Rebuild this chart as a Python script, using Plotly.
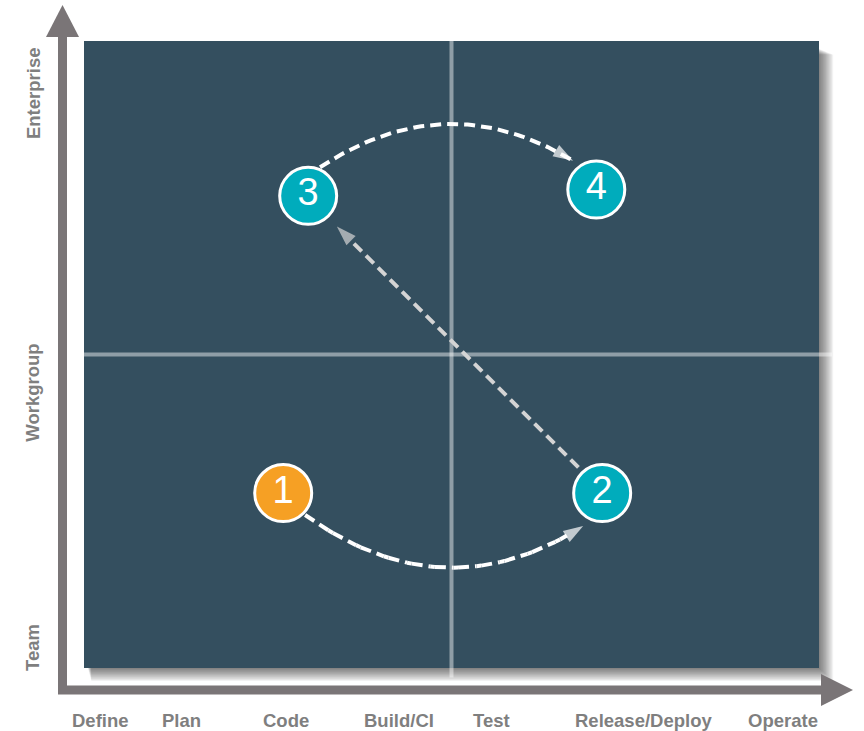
import math
import plotly.graph_objects as go

# --- chart content -------------------------------------------------------
stage_labels = ["Define", "Plan", "Code", "Build/CI", "Test", "Release/Deploy", "Operate"]
scope_labels = ["Team", "Workgroup", "Enterprise"]

steps = ["1", "2", "3", "4"]
step_stage = [2.71, 7.05, 3.05, 6.97]   # position along the lifecycle (0-10)
step_scope = [2.79, 2.79, 7.53, 7.63]   # organisational reach (0-10)

# transitions between steps: (from, to)
transitions = [("1", "2"), ("2", "3"), ("3", "4")]

# --- layout / styling ----------------------------------------------------
W, H = 864, 731
L, R, T, B = 84, 45, 41, 63           # plot area = the dark panel
PW, PH = W - L - R, H - T - B
SX, SY = PW / 10.0, PH / 10.0         # pixels per data unit

stage_label_pos = [0.22, 1.32, 2.75, 4.29, 5.55, 7.61, 9.51]
scope_label_pos = [0.32, 4.39, 9.17]

PANEL = "#344f5f"
AXIS_GREY = "#7a7577"
LABEL_GREY = "#7f7f7f"
ORANGE = "#f6a024"
TEAL = "#00acbc"
step_colors = [ORANGE, TEAL, TEAL, TEAL]
FONT = "Liberation Sans, Arial, sans-serif"

# connector geometry: departure / arrival angle (deg, screen coords),
# distance from circle centre, sag of the curve in pixels, colour
conn_style = {
    ("1", "2"): dict(dep=45, r0=31, arr=120, r1=38, sag=47, color="#ffffff"),
    ("2", "3"): dict(dep=-132.7, r0=35, arr=46.9, r1=42, sag=0, color="#d4d4d4"),
    ("3", "4"): dict(dep=-67.5, r0=31, arr=-129, r1=37, sag=-40, color="#ffffff"),
}


def px(xp, yp):
    """figure pixel -> paper coordinates"""
    return (xp - L) / PW, (H - B - yp) / PH


def shape_path(points):
    pts = [px(a, b) for a, b in points]
    return "M " + " L ".join(f"{x:.5f},{y:.5f}" for x, y in pts) + " Z"


fig = go.Figure()
shapes = []

# soft drop shadow behind the panel
for i in range(12):
    x0, y1 = px(L + 4 + i * 0.3, T + 8 + i * 0.5)
    x1, y0 = px(W - R + 1 + i * 1.2, H - B + 1 + i * 1.1)
    shapes.append(dict(type="rect", xref="paper", yref="paper", x0=x0, x1=x1, y0=y0, y1=y1,
                       fillcolor="rgba(0,0,0,0.05)", line=dict(width=0), layer="below"))

# panel
shapes.append(dict(type="rect", xref="paper", yref="paper", x0=0, x1=1, y0=0, y1=1,
                   fillcolor=PANEL, line=dict(width=0), layer="below"))

# quadrant dividers
shapes.append(dict(type="line", xref="x", yref="paper", x0=5, x1=5, y0=-0.015, y1=1,
                   line=dict(color="rgba(255,255,255,0.45)", width=4), layer="below"))
shapes.append(dict(type="line", xref="paper", yref="y", x0=0, x1=px(832, 0)[0], y0=5, y1=5,
                   line=dict(color="rgba(255,255,255,0.45)", width=4), layer="below"))

# axis arrows
vx, hy = 62.5, 690
shapes.append(dict(type="path", xref="paper", yref="paper",
                   path="M {:.5f},{:.5f} L {:.5f},{:.5f} L {:.5f},{:.5f}".format(
                       *px(vx, 34), *px(vx, hy), *px(824, hy)),
                   line=dict(color=AXIS_GREY, width=9)))
shapes.append(dict(type="path", xref="paper", yref="paper",
                   path=shape_path([(vx, 5), (46, 37), (79, 37)]),
                   fillcolor=AXIS_GREY, line=dict(width=0)))
shapes.append(dict(type="path", xref="paper", yref="paper",
                   path=shape_path([(853, hy), (821, 674), (821, 706)]),
                   fillcolor=AXIS_GREY, line=dict(width=0)))

# connectors between steps (quadratic curves computed in pixel space)
idx = {s: i for i, s in enumerate(steps)}
for a, b in transitions:
    st = conn_style[(a, b)]
    ax, ay = step_stage[idx[a]] * SX, -step_scope[idx[a]] * SY
    bx, by = step_stage[idx[b]] * SX, -step_scope[idx[b]] * SY
    p0 = (ax + st["r0"] * math.cos(math.radians(st["dep"])),
          ay + st["r0"] * math.sin(math.radians(st["dep"])))
    p2 = (bx + st["r1"] * math.cos(math.radians(st["arr"])),
          by + st["r1"] * math.sin(math.radians(st["arr"])))
    c = ((p0[0] + p2[0]) / 2, (p0[1] + p2[1]) / 2 + 2 * st["sag"])
    n = 60
    xs, ys = [], []
    for k in range(n + 1):
        t = k / n
        x = (1 - t) ** 2 * p0[0] + 2 * (1 - t) * t * c[0] + t ** 2 * p2[0]
        y = (1 - t) ** 2 * p0[1] + 2 * (1 - t) * t * c[1] + t ** 2 * p2[1]
        xs.append(x / SX)
        ys.append(-y / SY)
    sizes = [0] * n + [21]
    fig.add_trace(go.Scatter(
        x=xs, y=ys, mode="lines+markers", hoverinfo="skip", cliponaxis=False,
        line=dict(color=st["color"], width=4, dash="11px,6px"),
        marker=dict(symbol="arrow", size=sizes, angleref="previous", color=st["color"],
                    line=dict(width=0)),
        showlegend=False))

# numbered steps
fig.add_trace(go.Scatter(
    x=step_stage, y=step_scope, mode="markers+text", text=steps,
    textposition="middle center",
    textfont=dict(family=FONT, size=38, color="white"),
    marker=dict(size=57, color=step_colors, line=dict(color="white", width=3)),
    hoverinfo="skip", showlegend=False, cliponaxis=False))

annotations = []
for lab, xv in zip(stage_labels, stage_label_pos):
    annotations.append(dict(x=xv, y=px(0, 720)[1], xref="x", yref="paper", text=f"<b>{lab}</b>",
                            showarrow=False, font=dict(family=FONT, size=18.5, color=LABEL_GREY),
                            xanchor="center", yanchor="middle"))
for lab, yv in zip(scope_labels, scope_label_pos):
    annotations.append(dict(x=px(33, 0)[0], y=yv, xref="paper", yref="y", text=f"<b>{lab}</b>",
                            textangle=-90, showarrow=False,
                            font=dict(family=FONT, size=18.5, color=LABEL_GREY),
                            xanchor="center", yanchor="middle"))

fig.update_layout(
    width=W, height=H, margin=dict(l=L, r=R, t=T, b=B),
    paper_bgcolor="white", plot_bgcolor="rgba(0,0,0,0)",
    xaxis=dict(range=[0, 10], visible=False, fixedrange=True),
    yaxis=dict(range=[0, 10], visible=False, fixedrange=True),
    shapes=shapes, annotations=annotations,
)

fig.write_html("out.html")
